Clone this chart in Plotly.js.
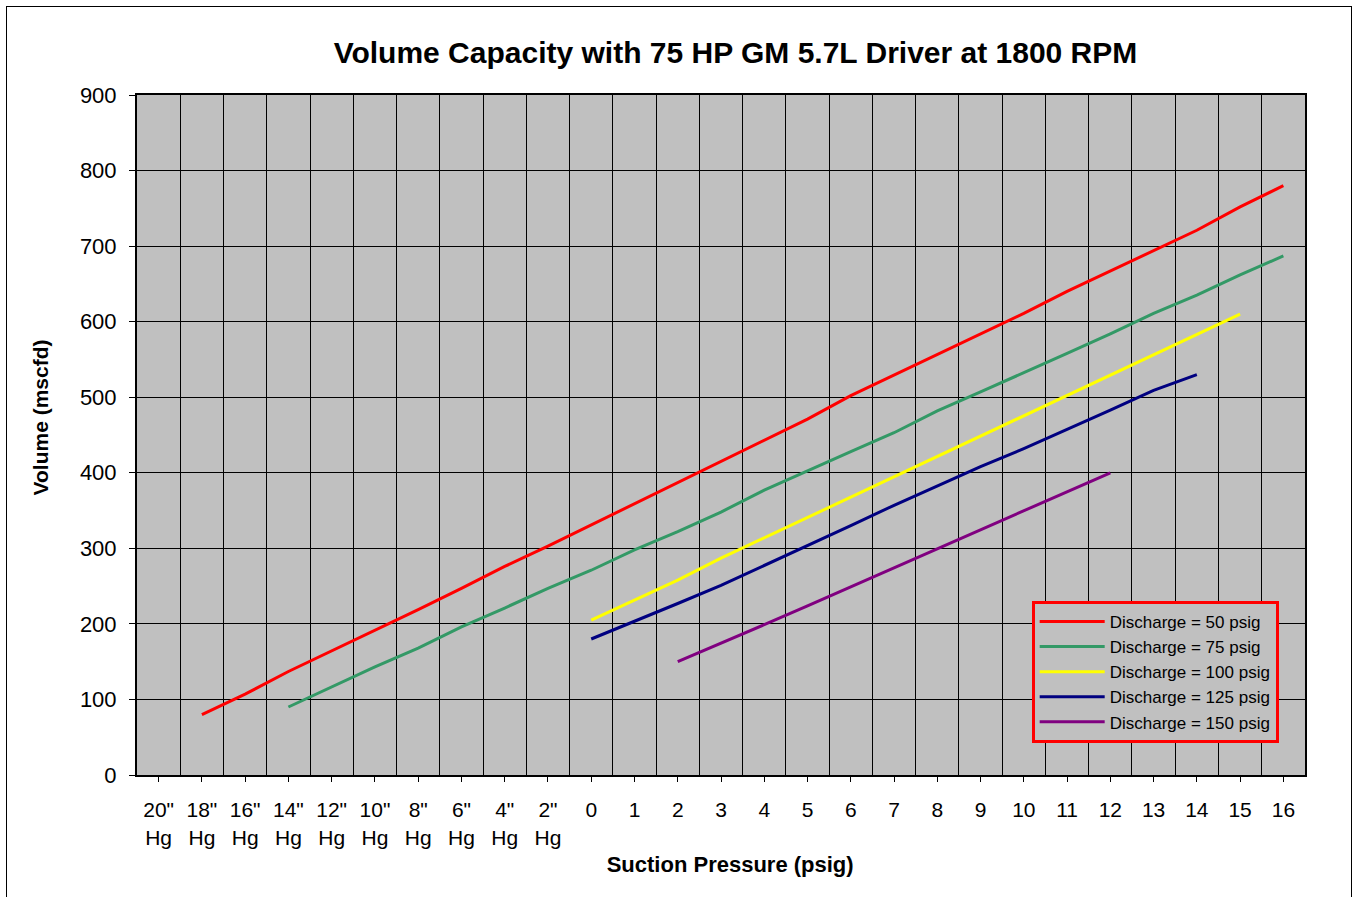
<!DOCTYPE html>
<html>
<head>
<meta charset="utf-8">
<script src="https://cdn.plot.ly/plotly-3.0.1.min.js"></script>
<style>
  html, body { margin: 0; padding: 0; background: #ffffff; }
  #chart { width: 1354px; height: 897px; }
  #frame { position: absolute; left: 6px; top: 6px; width: 1344px; height: 905px; border: 1.5px solid #000; pointer-events: none; }
</style>
</head>
<body>
<div id="chart"></div>
<div id="frame"></div>
<script>
// Categories (suction pressure)
const categories = ['20"<br>Hg','18"<br>Hg','16"<br>Hg','14"<br>Hg','12"<br>Hg','10"<br>Hg','8"<br>Hg','6"<br>Hg','4"<br>Hg','2"<br>Hg',
  '0','1','2','3','4','5','6','7','8','9','10','11','12','13','14','15','16'];

// Series values (mscfd), null where no data
const discharge50  = [null, 80, 107, 137, 164, 192, 219, 247, 276, 303, 331, 358, 387, 415, 442, 471, 502, 529, 556, 584, 611, 640, 667, 695, 721, 752, 780];
const discharge75  = [null, null, null, 90, 117, 143, 168, 196, 221, 247, 271, 298, 322, 348, 377, 403, 428, 453, 482, 507, 532, 558, 584, 611, 635, 662, 687];
const discharge100 = [null, null, null, null, null, null, null, null, null, null, 205, 231, 258, 287, 314, 341, 368, 395, 422, 449, 476, 502, 529, 556, 583, 610, null];
const discharge125 = [null, null, null, null, null, null, null, null, null, null, 180, 203, 227, 251, 277, 303, 330, 357, 383, 408, 432, 457, 483, 509, 530, null, null];
const discharge150 = [null, null, null, null, null, null, null, null, null, null, null, null, 150, 174, 199, 224, 249, 274, 300, 325, 350, 375, 400, null, null, null, null];

const seriesNames = ['Discharge = 50 psig','Discharge = 75 psig','Discharge = 100 psig','Discharge = 125 psig','Discharge = 150 psig'];
const seriesValues = [discharge50, discharge75, discharge100, discharge125, discharge150];
const seriesColors = ['#FF0000', '#339966', '#FFFF00', '#000080', '#800080'];

const yTicks = [0,100,200,300,400,500,600,700,800,900];

const traces = seriesValues.map((vals, i) => ({
  type: 'scatter',
  mode: 'lines',
  x: categories,
  y: vals,
  name: seriesNames[i],
  line: { color: seriesColors[i], width: 3 },
  connectgaps: false
}));

// helper trace so the boundary grid axis exists
traces.push({
  type: 'scatter', mode: 'lines', x: [], y: [], xaxis: 'x2', yaxis: 'y',
  showlegend: false, hoverinfo: 'skip'
});

const font = 'Liberation Sans, Arial, sans-serif';

const layout = {
  width: 1354,
  height: 897,
  paper_bgcolor: '#ffffff',
  plot_bgcolor: '#C0C0C0',
  margin: { l: 137, r: 49, t: 95, b: 122 },
  title: {
    text: '<b>Volume Capacity with 75 HP GM 5.7L Driver at 1800 RPM</b>',
    font: { family: font, size: 30, color: '#000' },
    x: 0.5124, xref: 'paper', xanchor: 'center',
    y: 1 - 52/897, yref: 'container', yanchor: 'middle'
  },
  xaxis: {
    type: 'category',
    categoryorder: 'array',
    categoryarray: categories,
    range: [-0.5, categories.length - 0.5],
    showgrid: false,
    zeroline: false,
    showline: true, mirror: true, linecolor: '#000', linewidth: 2,
    ticks: 'outside', ticklen: 5, tickcolor: '#000', tickwidth: 1,
    ticklabelstandoff: 10,
    tickfont: { family: font, size: 21, color: '#000' },
    title: { text: '<b>&nbsp;&nbsp;&nbsp;Suction Pressure (psig)</b>', font: { family: font, size: 22, color: '#000' }, standoff: 9 },
    fixedrange: true
  },
  xaxis2: {
    overlaying: 'x',
    type: 'linear',
    range: [-0.5, categories.length - 0.5],
    tick0: 0.5, dtick: 1,
    showgrid: true, gridcolor: '#000', gridwidth: 1,
    showticklabels: false, ticks: '',
    zeroline: false, showline: false,
    fixedrange: true
  },
  yaxis: {
    range: [0, 900],
    tickvals: yTicks,
    showgrid: true, gridcolor: '#000', gridwidth: 1,
    zeroline: false,
    showline: true, mirror: true, linecolor: '#000', linewidth: 2,
    ticks: 'outside', ticklen: 6, tickcolor: '#000', tickwidth: 1,
    ticklabelstandoff: 8,
    tickfont: { family: font, size: 22, color: '#000' },
    title: { text: '<b>&nbsp;&nbsp;&nbsp;&nbsp;&nbsp;&nbsp;Volume (mscfd)</b>', font: { family: font, size: 21, color: '#000' }, standoff: 26 },
    fixedrange: true
  },
  showlegend: true,
  legend: {
    x: 0.766, y: 0.256, xanchor: 'left', yanchor: 'top',
    bgcolor: '#C0C0C0',
    bordercolor: '#FF0000', borderwidth: 3,
    font: { family: font, size: 17, color: '#000' },
    itemwidth: 65,
    traceorder: 'normal'
  }
};

Plotly.newPlot('chart', traces, layout, { displayModeBar: false, staticPlot: true });
</script>
</body>
</html>
